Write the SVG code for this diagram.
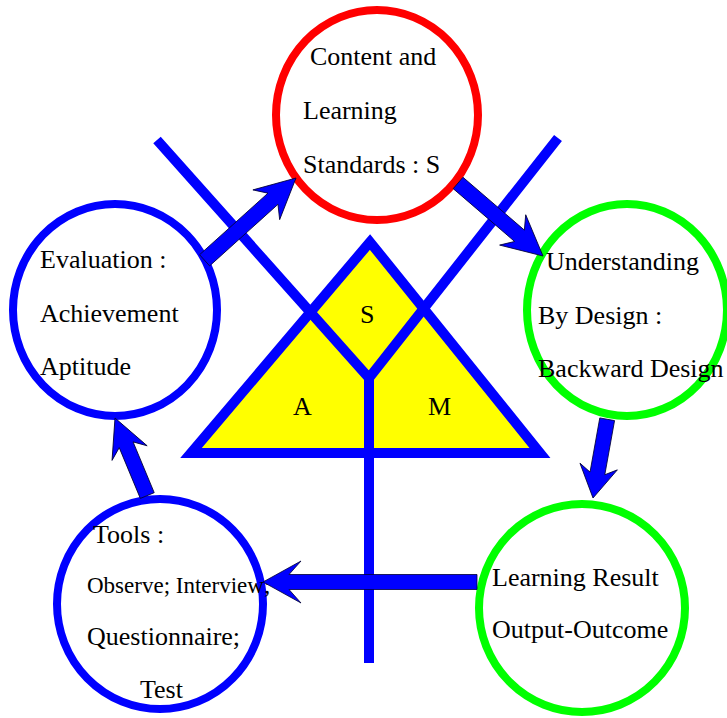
<svg xmlns="http://www.w3.org/2000/svg" width="727" height="718" viewBox="0 0 727 718">
<style>
.bg{fill:#ffffff}
.ring{fill:#ffffff;stroke-width:8}
.red{stroke:#ff0000}
.blue{stroke:#0000ff}
.green{stroke:#00ff00}
.t{font-family:"Liberation Serif","Times New Roman",serif;font-size:26px;fill:#000}
.ts{font-size:23px}
.bar{stroke:#0000ff;stroke-width:10;fill:none;stroke-linecap:butt}
.tri{fill:#ffff00;stroke:#0000ff;stroke-width:10;stroke-linejoin:miter}
.arrow{fill:#0000ff;stroke:#000033;stroke-width:0.8;stroke-linejoin:miter}
</style>
<rect class="bg" x="0" y="0" width="727" height="718"/>
<g id="center">
<polygon class="tri" points="370,242 191,453 540,453"/>
<path class="bar" d="M157,140 L369,378 L558,138 M369,378 L369,663"/>
<text class="t" x="360" y="323">S</text>
<text class="t" x="293" y="415">A</text>
<text class="t" x="428" y="415">M</text>
</g>
<g id="node-content">
<ellipse class="ring red" cx="377" cy="115" rx="101" ry="105"/>
<text class="t" x="310" y="65">Content and</text>
<text class="t" x="303" y="119">Learning</text>
<text class="t" x="303" y="173">Standards : S</text>
</g>
<g id="node-evaluation">
<ellipse class="ring blue" cx="115" cy="310" rx="102" ry="106"/>
<text class="t" x="40" y="268">Evaluation :</text>
<text class="t" x="40" y="322">Achievement</text>
<text class="t" x="40" y="375">Aptitude</text>
</g>
<g id="node-ubd">
<ellipse class="ring green" cx="627" cy="310" rx="100" ry="106"/>
<text class="t" x="546" y="270">Understanding</text>
<text class="t" x="538" y="324">By Design :</text>
<text class="t" x="538" y="377">Backward Design</text>
</g>
<g id="node-result">
<ellipse class="ring green" cx="582" cy="608" rx="103" ry="104"/>
<text class="t" x="492" y="586">Learning Result</text>
<text class="t" x="492" y="638">Output-Outcome</text>
</g>
<g id="node-tools">
<ellipse class="ring blue" cx="160" cy="604" rx="103" ry="105"/>
<text class="t" x="93" y="543">Tools :</text>
<text class="t ts" x="87" y="593">Observe; Interview;</text>
<text class="t" x="87" y="645">Questionnaire;</text>
<text class="t" x="140" y="698">Test</text>
</g>
<g id="connectors">
<path class="arrow" transform="translate(296,178) rotate(-42)" d="M0,0 L-40,-20 L-31,-7.5 L-123,-7.5 L-123,7.5 L-31,7.5 L-40,20 Z"/>
<path class="arrow" transform="translate(543,256) rotate(40.7)" d="M0,0 L-40,-20 L-31,-7.5 L-112,-7.5 L-112,7.5 L-31,7.5 L-40,20 Z"/>
<path class="arrow" transform="translate(593,498) rotate(100.2)" d="M0,0 L-32,-19 L-25,-7.5 L-80,-7.5 L-80,7.5 L-25,7.5 L-32,19 Z"/>
<path class="arrow" transform="translate(263,582) rotate(180)" d="M0,0 L-38,-21 L-26,-7.5 L-214,-7.5 L-214,7.5 L-26,7.5 L-38,21 Z"/>
<path class="arrow" transform="translate(115,418) rotate(-112.6)" d="M0,0 L-38,-19 L-29,-7.5 L-84,-7.5 L-84,7.5 L-29,7.5 L-38,19 Z"/>
</g>
</svg>
